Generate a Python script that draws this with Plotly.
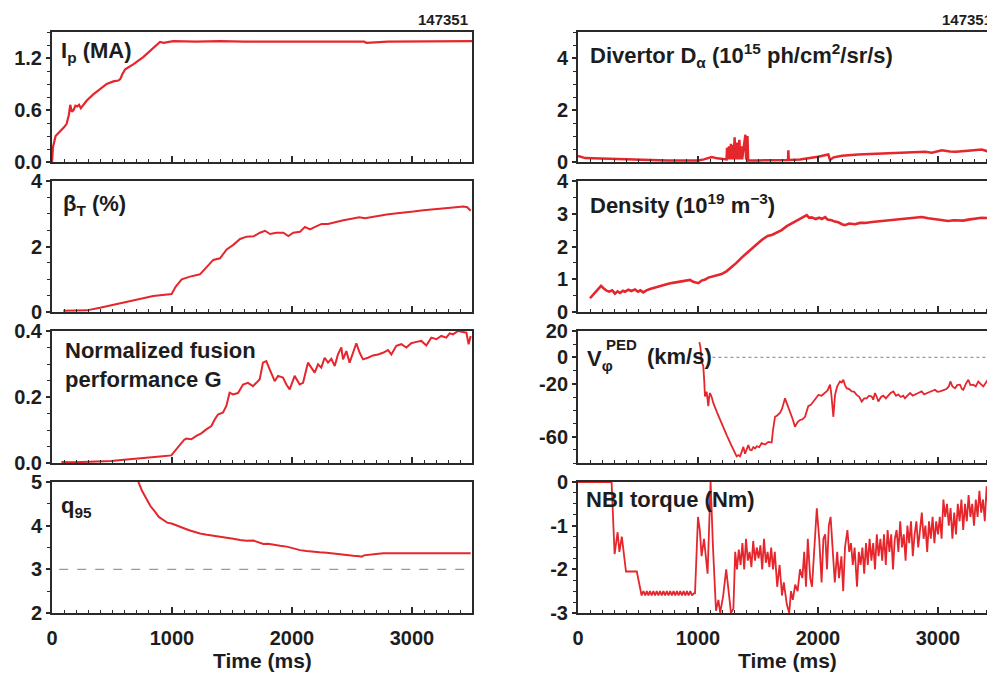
import plotly.graph_objects as go

# ---------------- data ----------------
ip_t = [0, 8, 30, 60, 100, 122, 140, 152, 165, 180, 195, 210, 225, 240, 260, 290, 344, 400, 456, 511,
        553, 570, 585, 610, 680, 760, 844, 900, 930, 1010, 1200, 1400, 1600, 1800, 2000, 2200, 2400,
        2600, 2620, 2800, 3000, 3200, 3400, 3500]
ip_ma = [0.0, 0.17, 0.30, 0.34, 0.40, 0.44, 0.54, 0.66, 0.58, 0.60, 0.65, 0.64, 0.66, 0.62, 0.66, 0.71,
         0.78, 0.84, 0.90, 0.93, 0.94, 0.96, 1.01, 1.07, 1.13, 1.21, 1.32, 1.385, 1.375, 1.395, 1.39,
         1.395, 1.39, 1.392, 1.39, 1.393, 1.39, 1.39, 1.375, 1.39, 1.392, 1.388, 1.39, 1.395]

beta_t = [94, 180, 289, 400, 500, 600, 700, 844, 997, 1030, 1081, 1150, 1233, 1289, 1344, 1400, 1456,
          1511, 1567, 1622, 1680, 1733, 1775, 1817, 1870, 1928, 1969, 2011, 2067, 2108, 2150, 2192,
          2247, 2300, 2358, 2428, 2497, 2560, 2608, 2650, 2719, 2789, 2858, 2928, 3011, 3095, 3178,
          3261, 3344, 3428, 3460, 3489]
beta_pct = [0.04, 0.05, 0.05, 0.13, 0.21, 0.29, 0.37, 0.49, 0.55, 0.77, 1.00, 1.08, 1.15, 1.36, 1.59,
            1.64, 1.91, 2.05, 2.23, 2.30, 2.31, 2.42, 2.48, 2.38, 2.42, 2.42, 2.32, 2.42, 2.45, 2.60,
            2.52, 2.60, 2.69, 2.69, 2.75, 2.80, 2.85, 2.89, 2.86, 2.89, 2.93, 2.98, 3.01, 3.03, 3.07,
            3.11, 3.13, 3.17, 3.19, 3.22, 3.20, 3.09]

g_t = [78, 150, 250, 350, 420, 494, 600, 700, 800, 900, 994, 1036, 1078, 1100, 1119, 1161, 1203, 1244,
       1286, 1328, 1356, 1383, 1425, 1453, 1480, 1508, 1550, 1592, 1633, 1675, 1703, 1731, 1758, 1786,
       1814, 1856, 1883, 1925, 1953, 1981, 2022, 2064, 2092, 2133, 2161, 2189, 2217, 2244, 2272, 2300,
       2328, 2356, 2383, 2411, 2425, 2453, 2480, 2508, 2536, 2564, 2592, 2633, 2675, 2717, 2758, 2800,
       2828, 2869, 2911, 2953, 2994, 3036, 3078, 3119, 3161, 3203, 3244, 3286, 3314, 3342, 3383, 3425,
       3453, 3472, 3489]
g_val = [0.003, 0.002, 0.003, 0.004, 0.005, 0.006, 0.010, 0.014, 0.017, 0.020, 0.023, 0.043, 0.062,
         0.070, 0.074, 0.072, 0.082, 0.090, 0.102, 0.112, 0.132, 0.147, 0.153, 0.173, 0.213, 0.208,
         0.212, 0.238, 0.243, 0.233, 0.243, 0.254, 0.304, 0.309, 0.284, 0.248, 0.264, 0.259, 0.238,
         0.223, 0.264, 0.238, 0.243, 0.304, 0.289, 0.274, 0.299, 0.289, 0.319, 0.304, 0.316, 0.294,
         0.329, 0.350, 0.314, 0.339, 0.304, 0.334, 0.363, 0.334, 0.314, 0.319, 0.326, 0.329, 0.334,
         0.342, 0.329, 0.355, 0.360, 0.350, 0.363, 0.367, 0.370, 0.356, 0.380, 0.375, 0.385, 0.380,
         0.393, 0.390, 0.400, 0.397, 0.395, 0.360, 0.385]

q95_t = [690, 720, 750, 789, 820, 858, 890, 928, 960, 997, 1030, 1067, 1110, 1150, 1190, 1233, 1290,
         1344, 1400, 1456, 1510, 1567, 1620, 1678, 1720, 1761, 1800, 1850, 1900, 1956, 2010, 2067, 2120,
         2178, 2230, 2289, 2340, 2400, 2460, 2511, 2560, 2581, 2600, 2622, 2700, 2761, 2830, 2900, 2970,
         3039, 3110, 3180, 3250, 3317, 3400, 3489]
q95_val = [5.3, 5.0, 4.8, 4.59, 4.45, 4.32, 4.20, 4.13, 4.07, 4.05, 4.02, 3.98, 3.93, 3.89, 3.85, 3.82,
           3.79, 3.77, 3.75, 3.73, 3.70, 3.67, 3.655, 3.66, 3.62, 3.58, 3.585, 3.57, 3.54, 3.52, 3.48,
           3.44, 3.42, 3.40, 3.39, 3.38, 3.36, 3.35, 3.33, 3.31, 3.30, 3.29, 3.32, 3.33, 3.35, 3.37, 3.37,
           3.38, 3.37, 3.38, 3.38, 3.375, 3.38, 3.38, 3.37, 3.37]
q95_ref = 3.0

dalpha_t = [0, 30, 60, 120, 200, 280, 350, 450, 550, 650, 750, 850, 950, 1000, 1050, 1114, 1160, 1200,
            1238, 1242, 1248, 1258, 1264, 1275, 1281, 1292, 1298, 1305, 1311, 1325, 1331, 1345, 1351,
            1362, 1368, 1395, 1401, 1412, 1418, 1500, 1600, 1700, 1750, 1753, 1756, 1850, 1919, 2000,
            2086, 2100, 2130, 2200, 2336, 2450, 2614, 2750, 2892, 2950, 3031, 3100, 3150, 3250, 3364,
            3420, 3450, 3475]
dalpha_val = [0.23, 0.18, 0.15, 0.14, 0.13, 0.12, 0.10, 0.08, 0.07, 0.06, 0.06, 0.06, 0.07, 0.06, 0.10,
              0.19, 0.14, 0.12, 0.10, 0.55, 0.10, 0.60, 0.10, 0.70, 0.10, 0.65, 0.10, 0.95, 0.10, 0.75,
              0.10, 0.85, 0.10, 0.60, 0.10, 1.05, 0.10, 1.00, 0.06, 0.06, 0.07, 0.08, 0.08, 0.45, 0.08,
              0.10, 0.14, 0.20, 0.29, 0.08, 0.18, 0.24, 0.29, 0.31, 0.33, 0.35, 0.39, 0.36, 0.45, 0.40,
              0.39, 0.43, 0.48, 0.40, 0.46, 0.25]

dens_t = [100, 120, 142, 165, 192, 215, 239, 260, 285, 308, 330, 350, 375, 392, 420, 445, 475, 500, 520,
          544, 570, 600, 642, 680, 720, 753, 790, 830, 864, 900, 933, 960, 1003, 1030, 1060, 1086, 1120,
          1160, 1197, 1240, 1281, 1320, 1364, 1400, 1447, 1490, 1531, 1580, 1620, 1642, 1670, 1697,
          1740, 1781, 1820, 1864, 1890, 1906, 1925, 1947, 1980, 2010, 2031, 2060, 2080, 2114, 2140,
          2169, 2200, 2225, 2260, 2308, 2350, 2392, 2450, 2503, 2560, 2614, 2670, 2725, 2800, 2864,
          2920, 2975, 3030, 3086, 3130, 3169, 3210, 3253, 3300, 3364, 3420, 3475]
dens_val = [0.42, 0.50, 0.59, 0.70, 0.80, 0.72, 0.65, 0.62, 0.66, 0.56, 0.63, 0.58, 0.65, 0.62, 0.68,
            0.64, 0.69, 0.62, 0.66, 0.60, 0.66, 0.70, 0.75, 0.79, 0.82, 0.86, 0.89, 0.92, 0.95, 0.96,
            0.98, 0.92, 0.88, 0.96, 0.99, 1.05, 1.08, 1.12, 1.16, 1.25, 1.37, 1.50, 1.66, 1.77, 1.93,
            2.07, 2.20, 2.32, 2.36, 2.40, 2.44, 2.50, 2.62, 2.70, 2.80, 2.86, 2.93, 2.96, 2.88, 2.89,
            2.84, 2.88, 2.84, 2.90, 2.82, 2.80, 2.76, 2.74, 2.68, 2.65, 2.70, 2.68, 2.72, 2.72, 2.75,
            2.77, 2.78, 2.80, 2.82, 2.85, 2.87, 2.90, 2.86, 2.84, 2.80, 2.78, 2.80, 2.80, 2.79, 2.82,
            2.84, 2.88, 2.87, 2.90]

vphi_t = [1011, 1020, 1030, 1044, 1052, 1058, 1072, 1086, 1093, 1100, 1114, 1128, 1160, 1200, 1240, 1280,
          1308, 1322, 1336, 1350, 1364, 1378, 1392, 1405, 1419, 1433, 1447, 1461, 1475, 1489, 1510, 1530,
          1560, 1586, 1614, 1625, 1642, 1660, 1683, 1700, 1725, 1745, 1767, 1790, 1808, 1830, 1850, 1870,
          1892, 1919, 1940, 1961, 1980, 2003, 2030, 2058, 2080, 2100, 2110, 2128, 2135, 2142, 2160, 2183,
          2197, 2211, 2225, 2239, 2260, 2281, 2300, 2322, 2345, 2364, 2385, 2406, 2425, 2447, 2460, 2475,
          2490, 2503, 2525, 2544, 2565, 2586, 2605, 2628, 2650, 2669, 2690, 2710, 2725, 2745, 2767, 2790,
          2808, 2835, 2864, 2885, 2910, 2940, 2975, 2995, 3017, 3040, 3070, 3090, 3103, 3120, 3142, 3160,
          3183, 3200, 3211, 3232, 3253, 3270, 3294, 3315, 3336, 3355, 3378, 3400, 3415, 3433, 3450, 3469,
          3475]
vphi_val = [11.6, 8, -3, -6.7, -18, -29.6, -26, -37, -30, -27, -30, -34.7, -42, -51, -59, -67, -73, -75,
            -74, -75, -71.6, -67.8, -73, -70.5, -66.5, -70, -70.3, -68, -69, -67.3, -68, -65, -66, -64,
            -64.5, -55, -45, -44, -42, -39, -31, -36, -41, -47, -52.5, -49, -47.4, -47, -45, -37, -36,
            -33.4, -31, -28.4, -29, -27, -25, -20.7, -27, -45, -35, -28.4, -22, -18.2, -19, -16.9, -21,
            -23.3, -24, -25.8, -26, -28.4, -30, -33.4, -31, -31, -29, -29.6, -32, -27, -30, -33.4, -30,
            -29, -31, -28.4, -27, -25.8, -29, -28, -30, -29, -31, -29, -27, -29, -28, -27, -25.8, -28,
            -27, -26, -24.5, -26, -25.8, -25, -24, -22, -18.2, -22, -23.3, -21, -20.7, -24, -24.5, -20,
            -16.9, -21, -20.7, -22, -18.2, -20, -22, -19, -17, -14.4, -12, -8, -6]
vphi_ref = 0.0

nbi_t = [0, 280, 295, 305, 330, 345, 365, 380, 400, 490, 530, 545, 560, 573, 587, 600, 614, 628, 642,
         656, 670, 684, 698, 712, 726, 740, 754, 768, 782, 796, 810, 824, 838, 852, 866, 880, 894, 908,
         922, 936, 950, 964, 975, 1000, 1015, 1030, 1050, 1080, 1105, 1125, 1150, 1170, 1185, 1210, 1235,
         1255, 1275, 1295, 1310, 1325, 1340, 1355, 1370, 1385, 1400, 1415, 1430, 1445, 1460, 1475, 1490,
         1505, 1520, 1535, 1550, 1565, 1580, 1595, 1610, 1625, 1640, 1660, 1680, 1700, 1715, 1740, 1760,
         1775, 1790, 1810, 1830, 1850, 1870, 1885, 1900, 1915, 1935, 1950, 1970, 1990, 2010, 2030, 2045,
         2060, 2075, 2090, 2105, 2120, 2140, 2160, 2175, 2195, 2210, 2225, 2245, 2260, 2275, 2290, 2305,
         2325, 2340, 2355, 2370, 2385, 2400, 2415, 2430, 2445, 2460, 2475, 2490, 2505, 2520, 2535, 2550,
         2565, 2580, 2595, 2610, 2625, 2640, 2655, 2670, 2685, 2700, 2715, 2730, 2745, 2760, 2775, 2790,
         2805, 2820, 2835, 2850, 2865, 2880, 2895, 2910, 2925, 2940, 2955, 2970, 2985, 3000, 3015, 3030,
         3045, 3060, 3075, 3090, 3105, 3120, 3135, 3150, 3165, 3180, 3195, 3210, 3225, 3240, 3255, 3270,
         3285, 3300, 3315, 3330, 3345, 3360, 3375, 3390, 3405, 3420, 3435, 3450, 3465, 3480]
nbi_nm = [0, 0, -1.0, -1.65, -1.15, -1.6, -1.25, -1.65, -2.05, -2.05, -2.6, -2.5, -2.6, -2.5, -2.6,
          -2.5, -2.6, -2.5, -2.6, -2.5, -2.6, -2.5, -2.6, -2.5, -2.6, -2.5, -2.6, -2.5, -2.6, -2.5, -2.6,
          -2.5, -2.6, -2.5, -2.6, -2.5, -2.6, -2.5, -2.6, -2.5, -2.6, -2.55, -2.55, -0.8, -1.1, -1.7,
          -1.3, -2.1, 0.0, -1.5, -2.95, -2.7, -3.0, -2.6, -2.0, -2.5, -3.0, -2.9, -1.6, -2.0, -1.55, -1.9,
          -1.4, -2.0, -1.3, -1.8, -1.6, -1.95, -1.35, -1.8, -1.5, -1.75, -1.45, -2.0, -1.3, -1.85, -1.6,
          -1.95, -1.5, -2.0, -1.6, -2.4, -1.9, -2.6, -2.3, -2.8, -3.0, -2.5, -2.7, -2.35, -2.5, -2.0,
          -2.2, -1.6, -2.4, -1.3, -2.2, -2.4, -1.6, -0.6, -1.3, -2.3, -1.3, -1.2, -2.0, -1.0, -0.8, -1.5,
          -2.3, -1.6, -2.2, -1.7, -2.5, -1.5, -1.1, -1.6, -1.4, -1.9, -1.5, -2.4, -1.6, -1.9, -1.5, -2.1,
          -1.4, -1.9, -1.3, -1.8, -1.4, -2.0, -1.2, -1.7, -1.3, -1.8, -1.2, -1.9, -1.1, -1.6, -1.2, -2.0,
          -1.3, -1.1, -1.6, -0.9, -1.5, -1.2, -1.8, -1.0, -1.4, -0.9, -1.7, -1.2, -0.9, -1.5, -1.1, -0.7,
          -1.3, -1.0, -1.6, -0.9, -1.3, -0.8, -1.4, -0.9, -1.2, -0.8, -1.3, -0.4, -0.8, -0.5, -1.0, -0.6,
          -1.3, -0.7, -1.2, -0.5, -0.9, -0.4, -1.1, -0.5, -0.9, -0.3, -0.8, -0.5, -1.0, -0.4, -0.8, -0.2,
          -0.7, -0.4, -0.9, -0.1, -0.6, -0.3, -0.7, -0.2, -0.5]

time_ticks = [0, 1000, 2000, 3000]
shot_label = "147351"

# ---------------- styling ----------------
# The page body has an 8px margin, so the figure is drawn 8px smaller and
# every reference pixel position is shifted by that offset.
OFF = 8
W, H = 995 - OFF, 675 - OFF
RED = "#e5262c"
FRAME = "#2a2a2a"
TXT = "#1d1d1d"
FONT = "Liberation Sans, Arial, Helvetica, sans-serif"

LEFT_PX = (52, 472)
RIGHT_PX = (578, 995)
ROWS_PX = [(32, 162), (181, 312), (331, 463), (482, 613)]


def px2x(p):
    return (p - OFF) / W


def px2y(p):
    return 1 - (p - OFF) / H


def xdom(px):
    return [px2x(px[0]), min(1.0, px2x(px[1]))]


def ydom(r):
    top, bot = ROWS_PX[r]
    return [px2y(bot), px2y(top)]


right_w = (min(RIGHT_PX[1], OFF + W) - RIGHT_PX[0]) / 0.12

panels = [
    # col, row, t, values, yrange, tickvals, ticktext, minor dtick, line width
    (0, 0, ip_t, ip_ma, [0, 1.5], [0, 0.6, 1.2], ["0.0", "0.6", "1.2"], 0.15, 2.2),
    (0, 1, beta_t, beta_pct, [0, 4], [0, 2, 4], ["0", "2", "4"], 0.5, 2),
    (0, 2, g_t, g_val, [0, 0.4], [0, 0.2, 0.4], ["0.0", "0.2", "0.4"], 0.05, 2),
    (0, 3, q95_t, q95_val, [2, 5], [2, 3, 4, 5], ["2", "3", "4", "5"], 0.5, 2),
    (1, 0, dalpha_t, dalpha_val, [0, 5], [0, 2, 4], ["0", "2", "4"], 0.5, 2.5),
    (1, 1, dens_t, dens_val, [0, 4], [0, 1, 2, 3, 4], ["0", "1", "2", "3", "4"], 0.5, 2.6),
    (1, 2, vphi_t, vphi_val, [-80, 20], [20, 0, -20, -60], ["20", "0", "-20", "-60"], 10, 1.8),
    (1, 3, nbi_t, nbi_nm, [-3, 0], [0, -1, -2, -3], ["0", "-1", "-2", "-3"], 0.25, 1.8),
]

fig = go.Figure()
layout = dict(
    width=W, height=H, margin=dict(l=0, r=0, t=0, b=0), showlegend=False,
    paper_bgcolor="white", plot_bgcolor="white",
    font=dict(family=FONT, size=20, color=TXT, weight="bold"),
)

TICKFONT = dict(family=FONT, size=20, color=TXT, weight="bold")

for k, (col, row, tt, vv, yr, tv, tt_txt, mdt, lw) in enumerate(panels, start=1):
    xs = "x" if k == 1 else f"x{k}"
    ys = "y" if k == 1 else f"y{k}"
    fig.add_trace(go.Scatter(x=tt, y=vv, mode="lines", xaxis=xs, yaxis=ys,
                             line=dict(color=RED, width=lw), hoverinfo="skip"))
    xr = [0, 3500] if col == 0 else [0, right_w]
    layout[f"xaxis{k}"] = dict(
        domain=xdom(LEFT_PX if col == 0 else RIGHT_PX), range=xr, anchor=ys,
        showline=True, linecolor=FRAME, linewidth=2, mirror=True,
        ticks="inside", ticklen=6, tickwidth=1.5, tickcolor=FRAME,
        tickmode="array", tickvals=time_ticks, showticklabels=(row == 3),
        ticklabelstandoff=6, tickfont=TICKFONT,
        minor=dict(dtick=100, tick0=0, ticks="inside", ticklen=3, tickwidth=1, tickcolor=FRAME),
        showgrid=False, zeroline=False, automargin=False, fixedrange=True,
    )
    layout[f"yaxis{k}"] = dict(
        domain=ydom(row), range=yr, anchor=xs,
        showline=True, linecolor=FRAME, linewidth=2, mirror=True,
        ticks="outside", ticklen=4, tickwidth=1.5, tickcolor=FRAME,
        tickmode="array", tickvals=tv, ticktext=tt_txt, tickfont=TICKFONT,
        minor=dict(dtick=mdt, tick0=0, ticks="outside", ticklen=3, tickwidth=1, tickcolor=FRAME),
        showgrid=False, zeroline=False, automargin=False, fixedrange=True,
    )

shapes = [
    dict(type="line", xref="x4", yref="y4", x0=60, x1=3460, y0=q95_ref, y1=q95_ref,
         line=dict(color="#9a9a9a", width=1.3, dash="dash")),
    dict(type="line", xref="x7", yref="y7", x0=1120, x1=right_w, y0=vphi_ref, y1=vphi_ref,
         line=dict(color="#9a9a9a", width=1.3, dash="dot")),
]


def ann(text, xp, yp, size=22, xanchor="left", yanchor="middle", align="left"):
    return dict(text=text, xref="paper", yref="paper", x=px2x(xp), y=px2y(yp),
                xanchor=xanchor, yanchor=yanchor, align=align, showarrow=False,
                font=dict(family=FONT, size=size, color=TXT, weight="bold"))


annotations = [
    ann(shot_label, 470, 19, size=15, xanchor="right"),
    ann(shot_label, 994, 19, size=15, xanchor="right"),
    ann("I<sub>p</sub> (MA)", 59, 52),
    ann("β<sub>T</sub> (%)", 61, 205),
    ann("Normalized fusion<br>performance G", 63, 365),
    ann("q<sub>95</sub>", 59, 507),
    ann("Divertor D<sub>α</sub> (10<sup>15</sup> ph/cm<sup>2</sup>/sr/s)", 588, 56),
    ann("Density (10<sup>19</sup> m<sup>−3</sup>)", 588, 204),
    ann("V<sub>φ</sub>", 585, 360),
    ann("PED", 604, 344, size=15),
    ann("(km/s)", 645, 356),
    ann("NBI torque (Nm)", 584, 499),
    ann("Time (ms)", 262, 660, size=21, xanchor="center"),
    ann("Time (ms)", 787, 660, size=21, xanchor="center"),
]

layout["shapes"] = shapes
layout["annotations"] = annotations
fig.update_layout(**layout)
fig.write_html("out.html")
